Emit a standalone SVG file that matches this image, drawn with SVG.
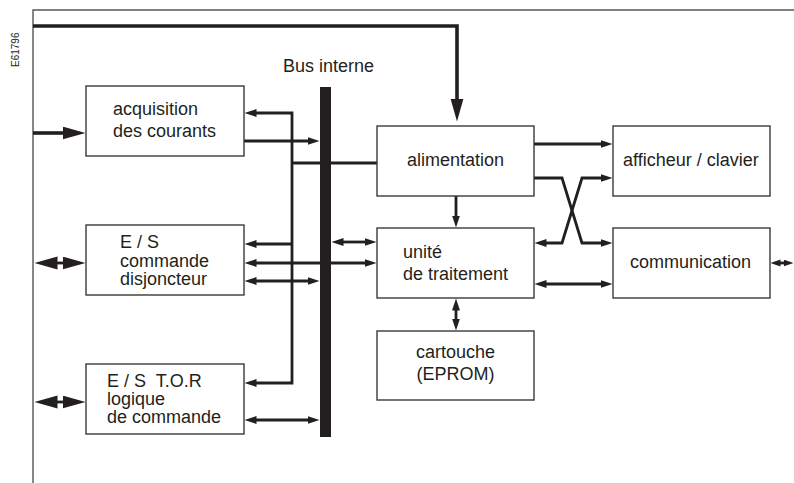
<svg xmlns="http://www.w3.org/2000/svg" width="794" height="483" viewBox="0 0 794 483">
<style>
.box{fill:#fff;stroke:#3a3a3a;stroke-width:1.4}
.t{font-family:"Liberation Sans",Arial,sans-serif;font-size:18px;fill:#231f20}
.c{fill:none;stroke:#231f20;stroke-width:2.8;stroke-linejoin:miter}
.thick{fill:none;stroke:#231f20;stroke-width:3.6}
.frame{fill:none;stroke:#555;stroke-width:1.4}
</style>
<defs>
<marker id="a" markerUnits="userSpaceOnUse" markerWidth="13" markerHeight="9" refX="0.5" refY="4" orient="auto-start-reverse"><path d="M0,0 L12,4 L0,8 z" fill="#231f20"/></marker>
<marker id="b" markerUnits="userSpaceOnUse" markerWidth="24" markerHeight="14" refX="0.5" refY="6.5" orient="auto-start-reverse"><path d="M0,0 L23,6.5 L0,13 z" fill="#231f20"/></marker>
<marker id="s" markerUnits="userSpaceOnUse" markerWidth="11" markerHeight="8" refX="0.5" refY="3.5" orient="auto-start-reverse"><path d="M0,0 L10,3.5 L0,7 z" fill="#231f20"/></marker>
</defs>

<text class="t" style="font-size:10px" transform="translate(19,67) rotate(-90)">E61796</text>

<g id="frame">
<path class="frame" d="M33,483 V10 H794"/>
</g>

<g id="connectors">
<path class="thick" d="M33,26 H457 V99" marker-end="url(#b)"/>
<path class="thick" d="M33,133 H63" marker-end="url(#b)"/>
<path class="c" d="M57,263 H63" marker-start="url(#b)" marker-end="url(#b)"/>
<path class="c" d="M57,402 H63" marker-start="url(#b)" marker-end="url(#b)"/>
<path class="c" d="M256,113 H292 V383 H256" marker-start="url(#a)" marker-end="url(#a)"/>
<path class="c" d="M292,244 H256" marker-end="url(#a)"/>
<path class="c" d="M292,163 H377"/>
<path class="c" d="M244,141 H308" marker-end="url(#a)"/>
<path class="c" d="M256,263 H365" marker-start="url(#a)" marker-end="url(#a)"/>
<path class="c" d="M256,281 H308" marker-start="url(#a)" marker-end="url(#a)"/>
<path class="c" d="M343,242 H365" marker-start="url(#a)" marker-end="url(#a)"/>
<path class="c" d="M256,420 H308" marker-start="url(#a)" marker-end="url(#a)"/>
<path class="c" d="M456,196 V216" marker-end="url(#a)"/>
<path class="c" d="M456,310 V319" marker-start="url(#a)" marker-end="url(#a)"/>
<path class="c" d="M534,144 H601" marker-end="url(#a)"/>
<path class="c" d="M534,178 H562 L582,243 H601" marker-end="url(#a)"/>
<path class="c" d="M546,243 H562 L582,178 H601" marker-start="url(#a)" marker-end="url(#a)"/>
<path class="c" d="M546,284 H601" marker-start="url(#a)" marker-end="url(#a)"/>
<path class="c" d="M780,263 H784" marker-start="url(#s)" marker-end="url(#s)"/>
</g>

<g id="bus">
<rect x="320" y="87" width="11" height="350" fill="#231f20"/>
<text class="t" x="283" y="72">Bus interne</text>
</g>

<g id="acquisition">
<rect class="box" x="86" y="86" width="158" height="70"/>
<text class="t" x="113" y="115">acquisition</text>
<text class="t" x="113" y="137">des courants</text>
</g>

<g id="es-commande">
<rect class="box" x="86" y="225" width="158" height="70"/>
<text class="t" x="120" y="248">E / S</text>
<text class="t" x="120" y="267">commande</text>
<text class="t" x="120" y="285">disjoncteur</text>
</g>

<g id="es-tor">
<rect class="box" x="86" y="364" width="158" height="70"/>
<text class="t" x="107" y="387">E / S&#160; T.O.R</text>
<text class="t" x="107" y="405">logique</text>
<text class="t" x="107" y="423">de commande</text>
</g>

<g id="alimentation">
<rect class="box" x="377" y="126" width="157" height="70"/>
<text class="t" x="407" y="166">alimentation</text>
</g>

<g id="afficheur">
<rect class="box" x="613" y="126" width="157" height="70"/>
<text class="t" x="623" y="166">afficheur / clavier</text>
</g>

<g id="unite">
<rect class="box" x="377" y="228" width="157" height="70"/>
<text class="t" x="403" y="258">unité</text>
<text class="t" x="403" y="280">de traitement</text>
</g>

<g id="communication">
<rect class="box" x="613" y="228" width="157" height="70"/>
<text class="t" x="630" y="268">communication</text>
</g>

<g id="cartouche">
<rect class="box" x="377" y="331" width="157" height="69"/>
<text class="t" x="455.5" y="358" text-anchor="middle">cartouche</text>
<text class="t" x="455.5" y="380" text-anchor="middle">(EPROM)</text>
</g>
</svg>
